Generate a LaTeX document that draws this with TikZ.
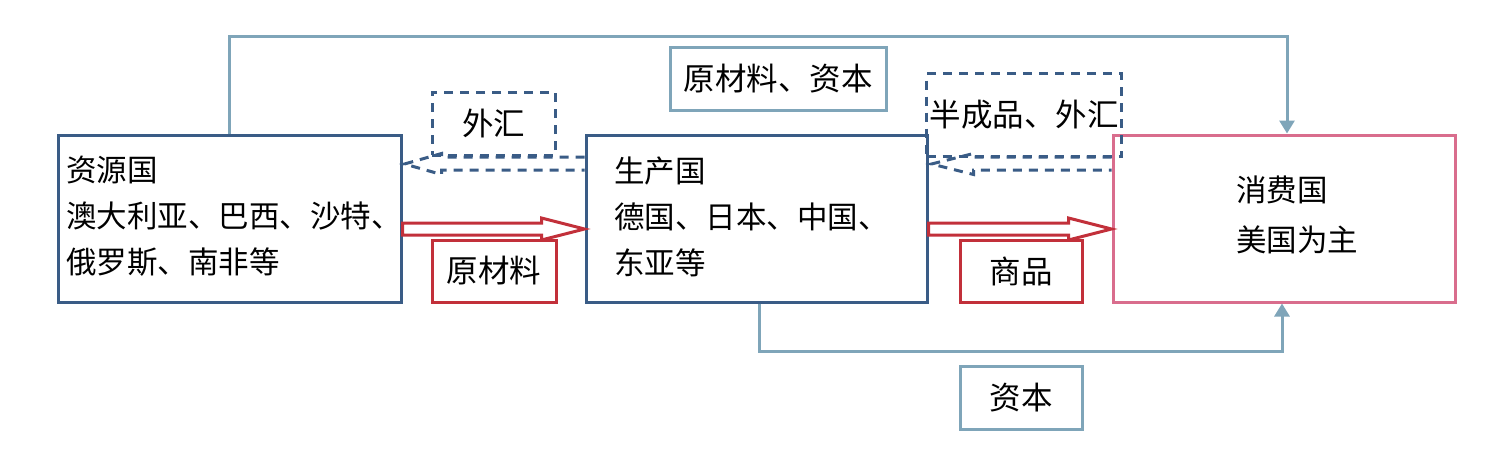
\documentclass[tikz,border=0pt]{standalone}
\usepackage{fontspec}
\setmainfont{Noto Sans CJK SC}
\usetikzlibrary{calc,arrows.meta}
\definecolor{navy}{HTML}{3A5C86}
\definecolor{rose}{HTML}{D96D8D}
\definecolor{brick}{HTML}{C2303A}
\definecolor{steel}{HTML}{7FA5B9}
\begin{document}
\begin{tikzpicture}[x=1pt,y=-1pt,
  box/.style={draw,line width=3pt,inner sep=0pt,minimum width=#1},
  txt/.style={inner sep=0pt,font=\fontsize{30.5}{46}\selectfont,align=left},
  lbl/.style={inner sep=0pt,font=\fontsize{31.5}{34}\selectfont},
  dashbox/.style={draw=navy,line width=3pt,dash pattern=on 9pt off 7pt},
  flow/.style={draw=steel,line width=3pt,-{Triangle[width=15pt,length=13pt]}},
  blockred/.style={draw=brick,line width=3pt,line join=miter},
  blockdash/.style={draw=navy,line width=3pt,dash pattern=on 9pt off 7pt}]
\useasboundingbox (0,0) rectangle (1496,455);

% country boxes
\node[box=343pt,draw=navy,minimum height=167pt] (res) at (229.5,218.5) {};
\node[box=341pt,draw=navy,minimum height=167pt] (prod) at (756.5,218.5) {};
\node[box=342pt,draw=rose,minimum height=167pt] (con) at (1284,218.5) {};

\node[txt,anchor=west] (restxt) at (66,216) {资源国\\澳大利亚、巴西、沙特、\\俄罗斯、南非等};
\node[txt,anchor=west] (prodtxt) at (614,217) {生产国\\德国、日本、中国、\\东亚等};
\node[txt,anchor=west,font=\fontsize{30.5}{50}\selectfont] (contxt) at (1236,215) {消费国\\美国为主};

% label boxes
\node[box=216pt,draw=steel,minimum height=63pt,lbl] (rawcap) at (778,78.5) {原材料、资本};
\node[box=122pt,draw=steel,minimum height=63pt,lbl] (cap) at (1021,397.5) {资本};
\node[box=124pt,draw=brick,minimum height=62pt,lbl] (raw) at (494,271) {原材料};
\node[box=122pt,draw=brick,minimum height=62pt,lbl] (goods) at (1021,271) {商品};
\node[dashbox,inner sep=0pt,minimum width=123pt,minimum height=63pt,lbl] (fx) at (493.5,123.5) {外汇};
\node[dashbox,inner sep=0pt,minimum width=195pt,minimum height=83pt,lbl] (semi) at (1024,115) {半成品、外汇};

% capital flows to the consumer
\draw[flow] (res.north) -- ++(0,-97) -| ([xshift=3pt]con.north);
\draw[flow] ([xshift=2.5pt]prod.south) -- ++(0,48) -| ([xshift=-2pt]con.south);

% raw materials and goods (hollow block arrows)
\draw[blockred] ($(res.east)+(0,4.5)$) -- ++(139,0) -- ++(0,-5) -- ($(prod.west)+(0,10.5)$)
  -- ($(res.east)+(139,21.5)$) -- ++(0,-5) -- ($(res.east)+(0,16.5)$) -- cycle;
\draw[blockred] ($(prod.east)+(0,4.5)$) -- ++(140,0) -- ++(0,-5) -- ($(con.west)+(0,10.5)$)
  -- ($(prod.east)+(140,21.5)$) -- ++(0,-5) -- ($(prod.east)+(0,16.5)$) -- cycle;

% foreign exchange and semi-finished goods (dashed block arrows)
\draw[blockdash] ($(prod.west)+(0,-61.5)$) -- ($(res.east)+(39,-61.5)$) -- ($(res.east)+(39,-65)$)
  -- ($(res.east)+(2,-54.5)$) -- ($(res.east)+(39,-44)$) -- ($(res.east)+(39,-48.5)$)
  -- ($(prod.west)+(0,-48.5)$);
\draw[blockdash] ($(con.west)+(0,-61.5)$) -- ($(prod.east)+(45,-61.5)$) -- ($(prod.east)+(45,-65)$)
  -- ($(prod.east)+(3,-54.5)$) -- ($(prod.east)+(45,-44)$) -- ($(prod.east)+(45,-48.5)$)
  -- ($(con.west)+(0,-48.5)$);
\end{tikzpicture}
\end{document}
